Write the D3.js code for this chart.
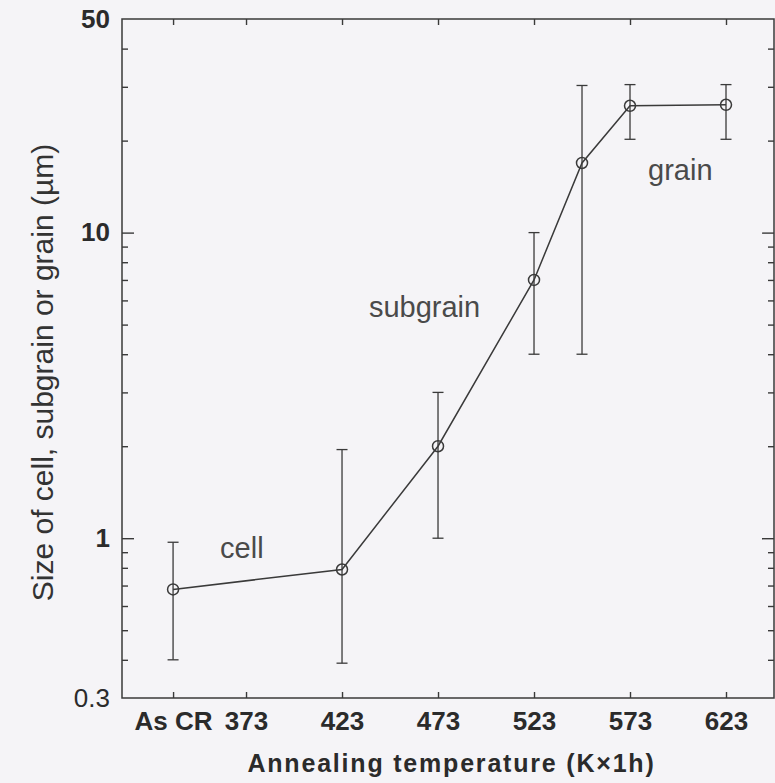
<!DOCTYPE html>
<html>
<head>
<meta charset="utf-8">
<script src="https://cdn.jsdelivr.net/npm/d3@7"></script>
<style>
  body { margin: 0; background: #f5f4f7; }
  svg { display: block; font-family: "Liberation Sans", Arial, sans-serif; }
  .axis path { display: none; }
  .axis line { stroke: #3a3a3a; stroke-width: 1.4; }
  .axis text { fill: #2b2b2b; font-weight: bold; }
</style>
</head>
<body>
<div class="chart"></div>
<script>
// annealing temperature (K), "As CR" sits left of 373 on the axis
var temps = [335, 423, 473, 523, 548, 573, 623];
var sizes = [0.68, 0.79, 2.0, 7.0, 16.9, 26, 26.2];
var errLow = [0.4, 0.39, 1.0, 4.0, 4.0, 20.2, 20.2];
var errHigh = [0.97, 1.95, 3.0, 10, 30.3, 30.5, 30.5];

var xTickValues = [335, 373, 423, 473, 523, 573, 623];
var xTickLabels = ["As CR", "373", "423", "473", "523", "573", "623"];
var yLabelTicks = [0.3, 1, 10, 50];
var yMajorTicks = [1, 10];
var yMinorTicks = [0.4, 0.5, 0.6, 0.7, 0.8, 0.9, 2, 3, 4, 5, 6, 7, 8, 9, 20, 30, 40];

// region names, placed in data units (temperature, size)
var regionNames = ["cell", "subgrain", "grain"];
var regionTemps = [359.5, 437, 582.4];
var regionSizes = [0.86, 5.3, 14.9];

var svgWidth = 775;
var svgHeight = 783;

var margin = { top: 19, right: 1, bottom: 85, left: 122 };
var width = svgWidth - margin.left - margin.right;
var height = svgHeight - margin.top - margin.bottom;

var svg = d3.select(".chart")
  .append("svg")
  .attr("width", svgWidth)
  .attr("height", svgHeight);

var chartGroup = svg.append("g")
  .attr("transform", `translate(${margin.left}, ${margin.top})`);

var xScale = d3.scaleLinear()
  .domain([308.4, 648])
  .range([0, width]);

var yScale = d3.scaleLog()
  .domain([0.3, 50])
  .range([height, 0]);

// frame
chartGroup.append("rect")
  .attr("width", width)
  .attr("height", height)
  .attr("fill", "none")
  .attr("stroke", "#3a3a3a")
  .attr("stroke-width", 1.5);

// bottom axis with labels, ticks pointing inward
chartGroup.append("g")
  .attr("class", "axis")
  .attr("transform", `translate(0, ${height})`)
  .style("font-size", "26px")
  .call(d3.axisBottom(xScale)
    .tickValues(xTickValues)
    .tickFormat((d, i) => xTickLabels[i])
    .tickSize(-6)
    .tickPadding(14));

// top axis ticks
chartGroup.append("g")
  .attr("class", "axis")
  .call(d3.axisTop(xScale)
    .tickValues(xTickValues)
    .tickFormat("")
    .tickSize(-6));

// left and right minor / major ticks
chartGroup.append("g")
  .attr("class", "axis")
  .call(d3.axisLeft(yScale).tickValues(yMinorTicks).tickFormat("").tickSize(-6));
chartGroup.append("g")
  .attr("class", "axis")
  .call(d3.axisLeft(yScale).tickValues(yMajorTicks).tickFormat("").tickSize(-12));
chartGroup.append("g")
  .attr("class", "axis")
  .attr("transform", `translate(${width}, 0)`)
  .call(d3.axisRight(yScale).tickValues(yMinorTicks).tickFormat("").tickSize(-6));
chartGroup.append("g")
  .attr("class", "axis")
  .attr("transform", `translate(${width}, 0)`)
  .call(d3.axisRight(yScale).tickValues(yMajorTicks).tickFormat("").tickSize(-12));

// y labels
var yLabels = chartGroup.append("g")
  .attr("class", "axis")
  .style("font-size", "26px")
  .call(d3.axisLeft(yScale)
    .tickValues(yLabelTicks)
    .tickFormat(d => d)
    .tickSize(0)
    .tickPadding(12));
yLabels.selectAll("text")
  .filter(d => d === 0.3)
  .style("font-weight", "normal");

// error bars
var bars = chartGroup.append("g")
  .attr("stroke", "#3a3a3a")
  .attr("stroke-width", 1.3);

temps.forEach(function(t, i) {
  var cx = xScale(t);
  bars.append("line")
    .attr("x1", cx).attr("x2", cx)
    .attr("y1", yScale(errLow[i])).attr("y2", yScale(errHigh[i]));
  bars.append("line")
    .attr("x1", cx - 5.5).attr("x2", cx + 5.5)
    .attr("y1", yScale(errLow[i])).attr("y2", yScale(errLow[i]));
  bars.append("line")
    .attr("x1", cx - 5.5).attr("x2", cx + 5.5)
    .attr("y1", yScale(errHigh[i])).attr("y2", yScale(errHigh[i]));
});

// connecting line
var line = d3.line()
  .x((d, i) => xScale(temps[i]))
  .y(d => yScale(d));

chartGroup.append("path")
  .datum(sizes)
  .attr("d", line)
  .attr("fill", "none")
  .attr("stroke", "#3a3a3a")
  .attr("stroke-width", 1.5);

// open circles
chartGroup.selectAll("circle")
  .data(sizes)
  .enter()
  .append("circle")
  .attr("cx", (d, i) => xScale(temps[i]))
  .attr("cy", d => yScale(d))
  .attr("r", 5.5)
  .attr("fill", "none")
  .attr("stroke", "#3a3a3a")
  .attr("stroke-width", 1.5);

// region names
chartGroup.selectAll(".region")
  .data(regionNames)
  .enter()
  .append("text")
  .attr("class", "region")
  .attr("x", (d, i) => xScale(regionTemps[i]))
  .attr("y", (d, i) => yScale(regionSizes[i]))
  .attr("fill", "#4a4a4a")
  .style("font-size", "29px")
  .text(d => d);

// axis titles
svg.append("text")
  .attr("x", 451.5)
  .attr("y", 772)
  .attr("text-anchor", "middle")
  .attr("fill", "#2b2b2b")
  .style("font-size", "25px")
  .style("font-weight", "bold")
  .style("letter-spacing", "1.8px")
  .text("Annealing temperature (K\u00d71h)");

svg.append("text")
  .attr("transform", "translate(53, 372.5) rotate(-90)")
  .attr("text-anchor", "middle")
  .attr("fill", "#333")
  .style("font-size", "30px")
  .text("Size of cell, subgrain or grain (\u00b5m)");
</script>
</body>
</html>
